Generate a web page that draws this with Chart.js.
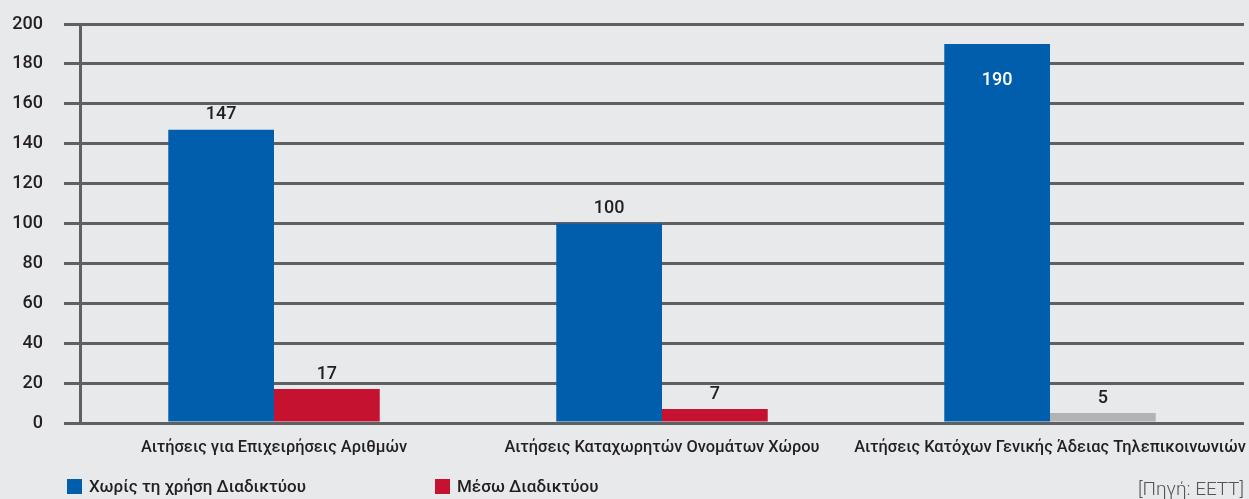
<!DOCTYPE html>
<html>
<head>
<meta charset="utf-8">
<script src="https://cdn.jsdelivr.net/npm/chart.js@4.4.1/dist/chart.umd.min.js"></script>
<style>
  html, body { margin:0; padding:0; background:#e8e9eb; }
  #wrap { position:relative; width:1249px; height:499px; background:#e8e9eb; overflow:hidden; font-family:Roboto, "Liberation Sans", Arial, sans-serif; }
  #c { position:absolute; left:0; top:0; }
  .leg { position:absolute; top:476px; display:flex; align-items:center; font-size:17px; font-weight:500; color:#231f20; }
  .leg i { display:inline-block; width:15px; height:15px; margin-right:7px; }
  #src { position:absolute; right:5px; top:477px; font-size:19px; font-weight:300; color:#555; }
</style>
</head>
<body>
<div id="wrap">
  <canvas id="c" width="1249" height="499"></canvas>
  <div class="leg" id="leg0" style="left:67px"></div>
  <div class="leg" id="leg1" style="left:435px"></div>
  <div id="src">[Πηγή: ΕΕΤΤ]</div>
</div>
<script>
const categories = [
  'Αιτήσεις για Επιχειρήσεις Αριθμών',
  'Αιτήσεις Καταχωρητών Ονομάτων Χώρου',
  'Αιτήσεις Κατόχων Γενικής Άδειας Τηλεπικοινωνιών'
];
const seriesNames = ['Χωρίς τη χρήση Διαδικτύου', 'Μέσω Διαδικτύου'];
const offlineValues = [147, 100, 190];
const onlineValues = [17, 7, 5];
const yTicks = [0, 20, 40, 60, 80, 100, 120, 140, 160, 180, 200];

const BLUE = '#005ead';
const RED = '#c41230';
const GREY = '#b3b3b3';
const onlineColors = [RED, RED, GREY];
const GRID = '#5f6062';
const TEXT = '#231f20';
const FONT = 'Roboto, "Liberation Sans", Arial, sans-serif';

[[BLUE, seriesNames[0]], [RED, seriesNames[1]]].forEach(([col, name], i) => {
  const el = document.getElementById('leg' + i);
  el.innerHTML = '<i style="background:' + col + '"></i><span>' + name + '</span>';
});

const valueLabels = {
  id: 'valueLabels',
  afterDatasetsDraw(chart) {
    const ctx = chart.ctx;
    ctx.save();
    ctx.font = '500 18px ' + FONT;
    ctx.textAlign = 'center';
    ctx.textBaseline = 'middle';
    chart.data.datasets.forEach((ds, di) => {
      const meta = chart.getDatasetMeta(di);
      meta.data.forEach((bar, i) => {
        const v = ds.data[i];
        const props = bar.getProps(['x', 'y', 'base'], true);
        let y, color;
        if (props.y - 30 < chart.chartArea.top) {
          y = props.y + 37; color = '#ffffff';
        } else {
          y = props.y - 15; color = TEXT;
        }
        ctx.fillStyle = color;
        ctx.fillText(String(v), props.x, y);
      });
    });
    ctx.restore();
  }
};

new Chart(document.getElementById('c'), {
  type: 'bar',
  data: {
    labels: categories,
    datasets: [
      { label: seriesNames[0], data: offlineValues, backgroundColor: BLUE,
        categoryPercentage: 0.545, barPercentage: 1.0 },
      { label: seriesNames[1], data: onlineValues, backgroundColor: onlineColors,
        categoryPercentage: 0.545, barPercentage: 1.0 }
    ]
  },
  options: {
    responsive: false,
    animation: false,
    devicePixelRatio: 1,
    layout: { padding: { left: 0, right: 5, top: 24, bottom: 36 } },
    plugins: { legend: { display: false }, tooltip: { enabled: false } },
    scales: {
      x: {
        grid: { display: false, drawTicks: false },
        border: { display: false },
        ticks: { color: TEXT, font: { family: FONT, size: 16.4, weight: 500 }, padding: 15, maxRotation: 0, autoSkip: false },
        afterFit(scale) { scale.height = 40; scale.paddingLeft = 0; scale.paddingRight = 0; }
      },
      y: {
        min: 0, max: 200,
        afterBuildTicks(scale) { scale.ticks = yTicks.map(v => ({ value: v })); },
        grid: { color: GRID, lineWidth: 3, tickLength: 16, tickColor: GRID, drawTicks: true },
        border: { display: true, color: GRID, width: 3 },
        ticks: { color: TEXT, font: { family: FONT, size: 18, weight: 500 }, padding: 21 },
        afterFit(scale) { scale.width = 80; scale.paddingTop = 0; scale.paddingBottom = 0; }
      }
    }
  },
  plugins: [valueLabels]
});
</script>
</body>
</html>
